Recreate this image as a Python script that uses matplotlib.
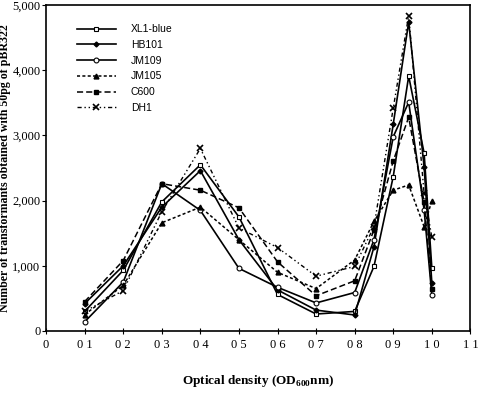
import matplotlib
matplotlib.use("Agg")
import matplotlib.pyplot as plt

# optical density readings (OD600)
od = [0.1, 0.2, 0.3, 0.4, 0.5, 0.6, 0.7, 0.8, 0.85, 0.9, 0.94, 0.98, 1.0]

xl1_blue = [300, 930, 1980, 2550, 1750, 560, 260, 300, 990, 2370, 3910, 2730, 970]
hb101 = [420, 1000, 1900, 2460, 1400, 630, 320, 245, 1290, 3175, 4740, 2520, 740]
jm109 = [140, 750, 2260, 1850, 960, 670, 430, 590, 1400, 2980, 3510, 1860, 550]
jm105 = [250, 700, 1660, 1900, 1400, 900, 650, 1090, 1680, 2160, 2240, 1600, 2000]
c600 = [450, 1080, 2260, 2160, 1890, 1060, 540, 770, 1550, 2610, 3280, 1980, 640]
dh1 = [300, 620, 1830, 2800, 1580, 1280, 840, 990, 1600, 3420, 4840, 2110, 1440]

x_ticks = [0, 0.1, 0.2, 0.3, 0.4, 0.5, 0.6, 0.7, 0.8, 0.9, 1.0, 1.1]
x_labels = ["0", "0 1", "0 2", "0 3", "0 4", "0 5", "0 6", "0 7", "0 8", "0 9", "1 0", "1 1"]
y_ticks = [0, 1000, 2000, 3000, 4000, 5000]
y_labels = ["0", "1,000", "2,000", "3,000", "4,000", "5,000"]

serif = "Liberation Serif"

fig = plt.figure(figsize=(4.8, 3.94), dpi=100)
ax = fig.add_axes([0.096, 0.16, 0.884, 0.827])

ax.plot(od, xl1_blue, color="black", lw=1.2, marker="s", ms=3.5, mfc="white", mew=0.8, label="XL1-blue")
ax.plot(od, hb101, color="black", lw=1.2, marker="D", ms=2.5, label="HB101")
ax.plot(od, jm109, color="black", lw=1.2, marker="o", ms=3.5, mfc="white", mew=0.8, label="JM109")
ax.plot(od, jm105, color="black", lw=1.1, ls=(0, (2, 1.5)), marker="^", ms=3.5, label="JM105")
ax.plot(od, c600, color="black", lw=1.1, ls=(0, (4, 2)), marker="s", ms=3.5, label="C600")
ax.plot(od, dh1, color="black", lw=1.0, ls=(0, (3, 2, 1, 2, 1, 2)), marker="x", ms=4, mew=1.2, label="DH1")

ax.set_xlim(0, 1.1)
ax.set_ylim(0, 5000)
ax.set_xticks(x_ticks)
ax.set_xticklabels(x_labels, fontfamily=serif, fontsize=9)
ax.set_yticks(y_ticks)
ax.set_yticklabels(y_labels, fontfamily=serif, fontsize=9)
ax.tick_params(axis="x", direction="inout", length=5, pad=3)
ax.tick_params(axis="y", direction="out", length=3, pad=1)
for s in ax.spines.values():
    s.set_linewidth(1.2)

ax.set_ylabel("Number of transformants obtained with 50pg of pBR322",
              fontfamily=serif, fontweight="bold", fontsize=8.6)
ax.yaxis.set_label_coords(-0.083, 0.5)
ax.set_xlabel("Optical density (OD$_{\\mathregular{600}}$nm)", fontfamily=serif,
              fontweight="bold", fontsize=9.5, labelpad=16)

leg = ax.legend(loc="upper left", bbox_to_anchor=(0.05, 0.97), frameon=False,
                prop={"family": "Liberation Sans", "size": 7.5},
                handlelength=3.8, labelspacing=0.55, handletextpad=1.4)

fig.savefig("out.png", dpi=100)
